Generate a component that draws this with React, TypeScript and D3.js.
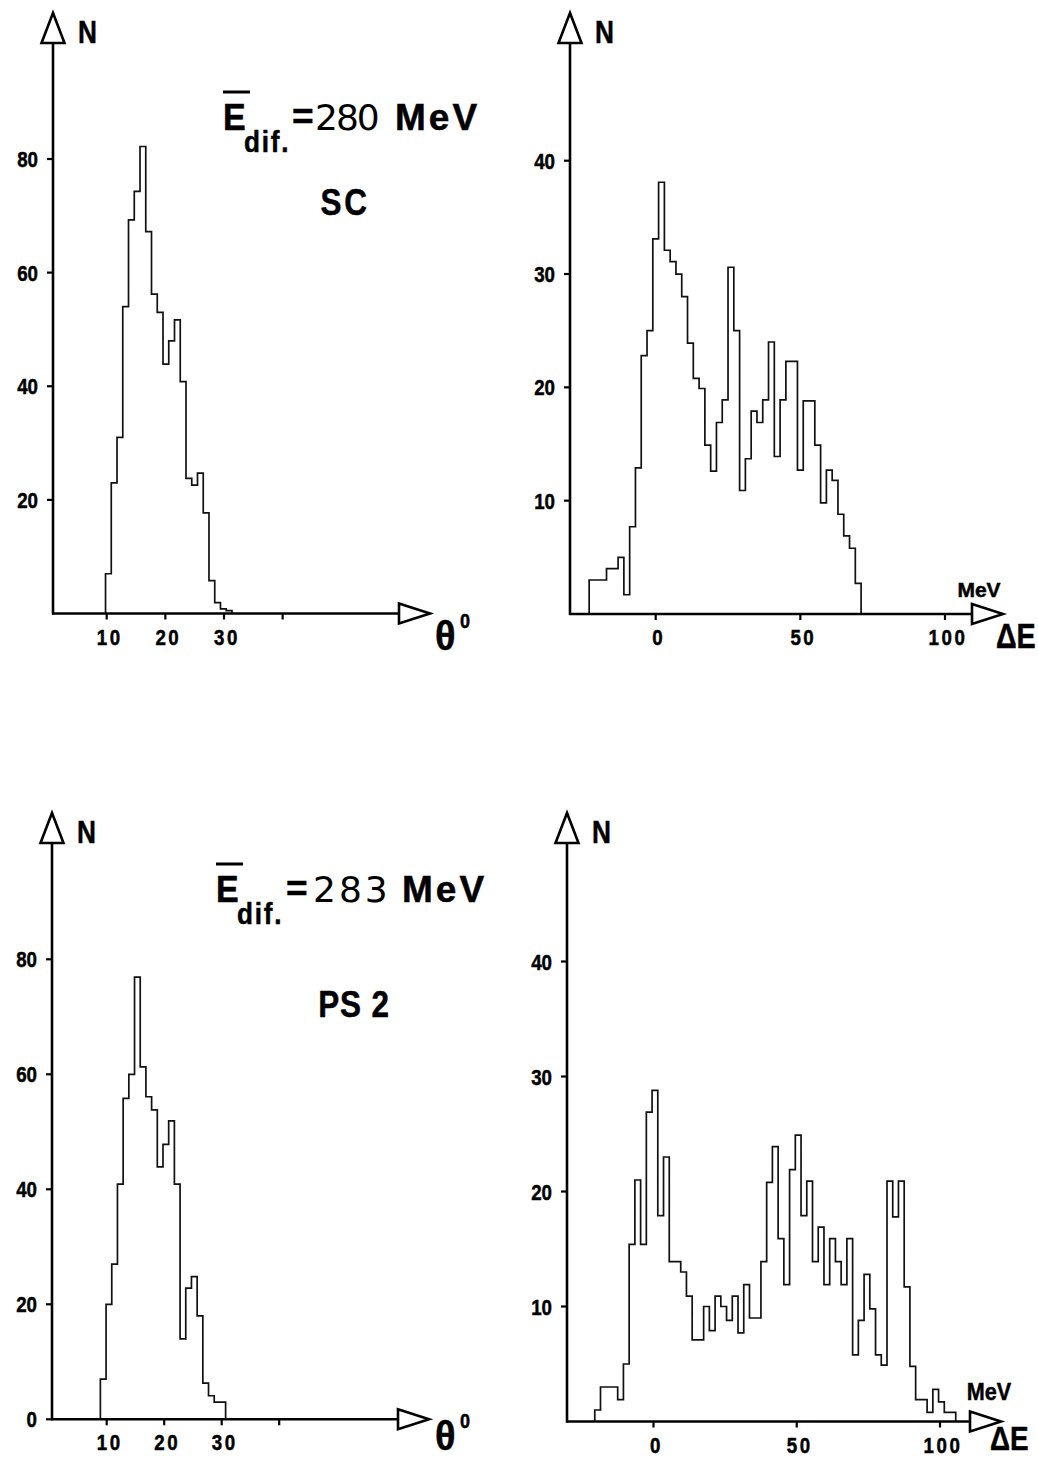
import React from 'react';
import * as d3 from 'd3';

// ---------- DATA ----------
const thetaTicks = [10, 20, 30, 40];
const thetaTickLabels = ['10', '20', '30', ''];
const nTicksTheta = [20, 40, 60, 80];
const nTicksDE = [10, 20, 30, 40];
const deTicks = [0, 50, 100];
const deTickLabels = ['0', '50', '100'];

// SC, angular distribution (bins of ~1 degree)
const scThetaStart = 9.8;
const scThetaWidth = 0.98;
const scTheta = [7, 23, 31, 54, 69.3, 74.3, 82.2, 67.2, 56.2, 53, 43.9, 48, 51.7, 40.8, 23.8, 22.6, 24.7, 17.7, 5.8, 1.9, 0.8, 0.5];

// PS2, angular distribution
const ps2ThetaStart = 8.9;
const ps2ThetaWidth = 0.99;
const ps2Theta = [7, 20, 27, 40.9, 55.8, 60, 76.9, 61.3, 56.1, 53.8, 43.9, 47.8, 51.9, 40.9, 14, 22.8, 24.8, 18, 6.3, 4.1, 3, 3];

// SC, Delta E distribution (2 MeV bins)
const scDEStart = -23;
const scDEWidth = 2;
const scDE = [3, 3, 3, 4, 4, 5, 1.7, 7.7, 12.9, 22.8, 25, 33.1, 38.1, 32.1, 31.1, 30, 28, 23.9, 20.8, 19.9,
  14.9, 12.6, 16.9, 18.9, 30.6, 25, 10.9, 13.7, 17.9, 16.9, 18.9, 24, 13.9, 18.9, 22.3, 22.3, 12.7, 18.8, 18.8, 14.9,
  9.8, 12.7, 11.8, 8.8, 6.9, 5.8, 2.7];

// PS2, Delta E distribution (2 MeV bins)
const ps2DEStart = -20.5;
const ps2DEWidth = 2;
const ps2DE = [1, 3, 3, 3, 1.9, 5, 15.4, 21, 15.4, 26.9, 28.8, 17.9, 23, 13.9, 13.9, 13, 10.9, 7.1, 7.1, 10,
  7.9, 10.9, 10, 8.8, 10.9, 7.7, 11.9, 9, 9, 13.9, 20.8, 23.9, 15.9, 11.9, 21.9, 24.9, 17.9, 20.9, 13.9, 16.9,
  11.9, 15.9, 13.9, 11.9, 15.9, 5.8, 8.8, 12.8, 9.8, 5.8, 4.9, 20.9, 17.8, 20.9, 11.7, 4.8, 1.9, 1.9, 0.8, 2.8,
  1.7, 0.8, 0.8];

// ---------- STYLE ----------
const SANS = "'Liberation Sans', Arial, sans-serif";
const ROUND = "'DejaVu Sans', 'Liberation Sans', sans-serif";

type TProps = {
  x: number; y: number; s?: number; sx?: number; anchor?: string; w?: string | number;
  f?: string; ls?: number; children: React.ReactNode;
};
function T({ x, y, s = 22, sx = 0.85, anchor = 'start', w = 'bold', f = SANS, ls = 0, children }: TProps) {
  const heavy = w === 'bold';
  return (
    <text transform={`translate(${x},${y}) scale(${sx},1)`} textAnchor={anchor as any}
      fontFamily={f} fontWeight={w} fontSize={s} letterSpacing={ls} fill="#000"
      stroke={heavy ? '#000' : 'none'} strokeWidth={heavy ? 0.5 : 0}>{children}</text>
  );
}

type PanelProps = {
  xDomain: [number, number];
  xRange: [number, number];
  yDomain: [number, number];
  yRange: [number, number];
  axisX: number;
  axisEnd: number;
  yTop: number;
  xTicks: number[];
  xTickLabels: string[];
  yTicks: number[];
  yTickLabels: string[];
  binStart: number;
  binWidth: number;
  values: number[];
};

function Panel(p: PanelProps) {
  const x = d3.scaleLinear().domain(p.xDomain).range(p.xRange);
  const y = d3.scaleLinear().domain(p.yDomain).range(p.yRange);
  const y0 = y(0);
  const path = d3.path();
  path.moveTo(x(p.binStart), y0);
  p.values.forEach((v, i) => {
    path.lineTo(x(p.binStart + i * p.binWidth), y(v));
    path.lineTo(x(p.binStart + (i + 1) * p.binWidth), y(v));
  });
  path.lineTo(x(p.binStart + p.values.length * p.binWidth), y0);

  const ax = p.axisX;
  const ae = p.axisEnd;
  return (
    <g>
      <path d={path.toString()} fill="none" stroke="#111" strokeWidth={1.7} />
      <line x1={ax} x2={ax} y1={y0 + 1} y2={p.yTop} stroke="#000" strokeWidth={2.6} />
      <polygon points={`${ax},${p.yTop - 30} ${ax - 11.5},${p.yTop} ${ax + 11.5},${p.yTop}`} fill="#fff" stroke="#000" strokeWidth={2.6} />
      <line x1={ax - 1} x2={ae} y1={y0} y2={y0} stroke="#000" strokeWidth={2.6} />
      <polygon points={`${ae},${y0 - 10} ${ae + 31},${y0} ${ae},${y0 + 10}`} fill="#fff" stroke="#000" strokeWidth={2.6} />
      {p.yTicks.map((t, i) => (
        <g key={'y' + i}>
          <line x1={ax - 6} x2={ax} y1={y(t)} y2={y(t)} stroke="#000" strokeWidth={2.2} />
          <T x={ax - 15} y={y(t) + 8} anchor="end" s={22}>{p.yTickLabels[i]}</T>
        </g>
      ))}
      {p.xTicks.map((t, i) => (
        <g key={'x' + i}>
          <line x1={x(t)} x2={x(t)} y1={y0} y2={y0 + 6} stroke="#000" strokeWidth={2.2} />
          <T x={x(t) + 3} y={y0 + 31} anchor="middle" s={22} ls={3}>{p.xTickLabels[i]}</T>
        </g>
      ))}
      <T x={ax + 25} y={p.yTop} s={32} sx={0.82}>N</T>
    </g>
  );
}

type ELProps = { ex: number; eqx: number; vx: number; vls: number; mx: number; y: number; value: string };
function EnergyLabel({ ex, eqx, vx, vls, mx, y, value }: ELProps) {
  return (
    <g>
      <line x1={ex} x2={ex + 27} y1={y - 38} y2={y - 38} stroke="#000" strokeWidth={3} />
      <T x={ex} y={y} s={37} sx={0.92}>E</T>
      <T x={ex + 21} y={y + 22} s={29} sx={0.9} ls={2}>dif.</T>
      <T x={eqx} y={y - 1} s={37} sx={1}>=</T>
      <T x={vx} y={y} s={36} sx={1} w="normal" f={ROUND} ls={vls}>{value}</T>
      <T x={mx} y={y} s={37} sx={1} ls={3}>MeV</T>
    </g>
  );
}

export default function App() {
  const yTicksThetaLabels = nTicksTheta.map(String);
  const yTicksDELabels = nTicksDE.map(String);
  return (
    <svg width={1038} height={1457} style={{ position: 'absolute', left: 0, top: 0, background: '#fff' }}>
      <rect x={0} y={0} width={1038} height={1457} fill="#fff" />
      <Panel xDomain={[10, 30]} xRange={[106.7, 224]} yDomain={[0, 80]} yRange={[613.5, 159]}
        axisX={53} axisEnd={399} yTop={43}
        xTicks={thetaTicks} xTickLabels={thetaTickLabels}
        yTicks={nTicksTheta} yTickLabels={yTicksThetaLabels}
        binStart={scThetaStart} binWidth={scThetaWidth} values={scTheta} />
      <Panel xDomain={[0, 100]} xRange={[655.7, 945]} yDomain={[0, 40]} yRange={[614, 160.7]}
        axisX={570} axisEnd={972} yTop={43}
        xTicks={deTicks} xTickLabels={deTickLabels}
        yTicks={nTicksDE} yTickLabels={yTicksDELabels}
        binStart={scDEStart} binWidth={scDEWidth} values={scDE} />
      <Panel xDomain={[10, 30]} xRange={[106.7, 221.7]} yDomain={[0, 80]} yRange={[1419.3, 959.3]}
        axisX={52} axisEnd={398} yTop={843}
        xTicks={thetaTicks} xTickLabels={thetaTickLabels}
        yTicks={[0, ...nTicksTheta]} yTickLabels={['0', ...yTicksThetaLabels]}
        binStart={ps2ThetaStart} binWidth={ps2ThetaWidth} values={ps2Theta} />
      <Panel xDomain={[0, 100]} xRange={[653.5, 940]} yDomain={[0, 40]} yRange={[1421.5, 961.5]}
        axisX={567} axisEnd={970} yTop={843}
        xTicks={deTicks} xTickLabels={deTickLabels}
        yTicks={nTicksDE} yTickLabels={yTicksDELabels}
        binStart={ps2DEStart} binWidth={ps2DEWidth} values={ps2DE} />

      <EnergyLabel ex={223} eqx={292} vx={315} vls={-2} mx={395} y={130} value="280" />
      <T x={345} y={215} anchor="middle" s={37} ls={3}>SC</T>
      <EnergyLabel ex={216} eqx={286} vx={313} vls={3} mx={402} y={902} value="283" />
      <T x={354} y={1017} anchor="middle" s={37} ls={1}>PS 2</T>

      <T x={435} y={650} s={40} sx={0.95}>θ</T>
      <T x={460} y={628} s={20} sx={0.9}>0</T>
      <T x={435} y={1450} s={40} sx={0.95}>θ</T>
      <T x={460} y={1428} s={20} sx={0.9}>0</T>

      <T x={979} y={597} anchor="middle" s={21} sx={1}>MeV</T>
      <T x={996} y={648} s={35} sx={0.82}>ΔE</T>
      <T x={989} y={1400} anchor="middle" s={24} sx={0.9}>MeV</T>
      <T x={990} y={1450} s={34} sx={0.82}>ΔE</T>
    </svg>
  );
}
